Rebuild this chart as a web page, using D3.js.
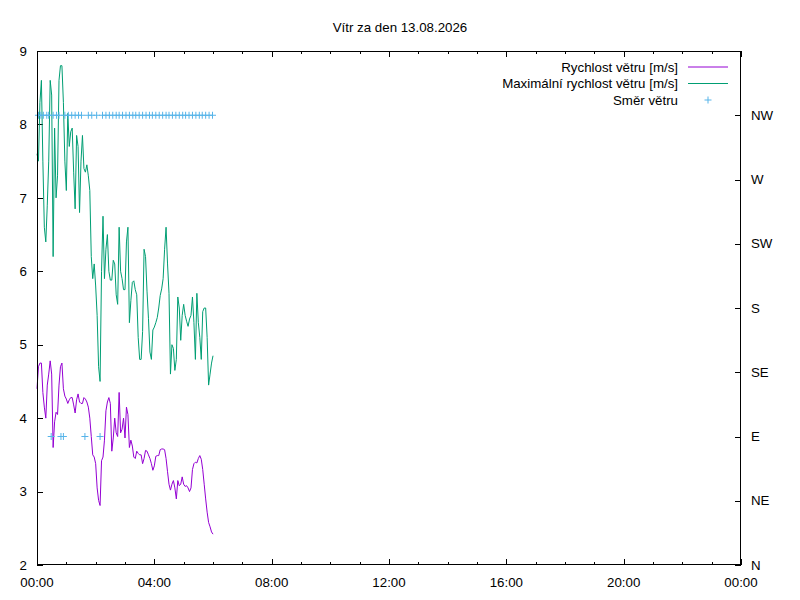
<!DOCTYPE html>
<html><head><meta charset="utf-8">
<script src="https://cdn.jsdelivr.net/npm/d3@7/dist/d3.min.js"></script>
<style>
body{margin:0;background:#fff}
svg text{font-family:"Liberation Sans",Arial,sans-serif;font-size:13.3px;fill:#000}
</style>
</head><body>
<svg id="chart" width="800" height="600"></svg>
<script>
const title = "Vítr za den 13.08.2026";
const seriesNames = ["Rychlost větru [m/s]", "Maximální rychlost větru [m/s]", "Směr větru"];
const seriesColors = ["#9400d3", "#009e73", "#56b4e9"];

// minutes after midnight
const minutes = d3.range(0, 361, 3);
const speed = [4.4,4.7,4.75,4.75,4.35,4.15,4.0,4.45,4.6,4.78,4.6,3.6,3.95,4.08,4.05,4.45,4.7,4.75,4.4,4.3,
  4.26,4.2,4.25,4.28,4.28,4.18,4.07,4.25,4.33,4.22,4.2,4.2,4.28,4.26,4.22,4.15,4.0,3.75,3.5,3.47,
  3.38,3.05,2.88,2.81,3.42,3.47,3.7,4.1,4.22,4.28,4.2,3.55,3.73,4.0,3.8,3.75,4.35,3.8,3.85,4.0,
  3.73,4.15,4.05,3.6,3.7,3.62,3.47,3.45,3.55,3.52,3.5,3.5,3.38,3.45,3.56,3.55,3.5,3.45,3.38,3.29,
  3.35,3.48,3.49,3.49,3.57,3.58,3.58,3.57,3.45,3.27,3.1,3.02,3.1,3.15,3.05,2.9,3.15,3.08,3.1,3.2,
  3.1,3.07,3.08,3.05,3.0,3.05,3.3,3.38,3.4,3.39,3.45,3.49,3.44,3.3,3.1,2.9,2.72,2.58,2.52,2.45,2.42];
const gust = [7.6,7.5,8.3,8.6,7.5,6.6,6.4,6.9,7.5,8.6,8.4,6.2,7.95,7.0,7.3,8.6,8.8,8.8,8.3,7.5,
  7.1,8.15,7.7,7.9,7.95,7.35,6.85,7.85,7.7,6.8,7.5,7.85,7.4,7.35,7.45,7.3,7.1,6.2,5.9,6.1,
  5.8,5.4,4.7,4.5,6.0,6.75,5.9,6.3,6.5,6.0,5.88,5.88,6.15,6.1,5.68,5.55,6.6,6.0,5.9,5.75,
  5.75,6.4,6.6,5.3,5.6,5.85,5.87,5.75,5.68,5.1,4.8,4.8,5.18,6.3,6.2,5.73,5.36,4.9,4.8,5.2,
  5.24,5.3,5.37,5.5,5.67,5.76,5.9,6.3,6.6,6.1,5.7,4.6,5.0,4.95,4.65,4.8,5.65,5.5,5.06,5.4,
  5.55,5.4,5.32,5.25,5.35,5.4,5.65,5.3,4.8,5.7,5.3,5.1,4.8,5.45,5.5,5.5,5.1,4.45,4.6,4.75,4.85];

const dirMinutes = [3,8,13,20,24,29,33,40,45,49,54,57,64,71,78,85,91,98,105,112,122,129,134,141,148,155,162,168,
  175,182,189,196,202,209,216,223,230,236,243,250,257,264,270,277,284,291,298,304,311,318,325,332,338,345,352,359];
const dirDegrees = [315,315,315,315,315,90,315,315,315,90,90,315,315,315,315,315,315,90,315,315,315,90,315,315,315,315,315,315,
  315,315,315,315,315,315,315,315,315,315,315,315,315,315,315,315,315,315,315,315,315,315,315,315,315,315,315,315];

const xTickMinutes = [0,240,480,720,960,1200,1440];
const xTickLabels = ["00:00","04:00","08:00","12:00","16:00","20:00","00:00"];
const yTicks = [2,3,4,5,6,7,8,9];
const dirTickDegrees = [0,45,90,135,180,225,270,315];
const dirLabels = ["N","NE","E","SE","S","SW","W","NW"];

const L = 37, R = 741, T = 51, B = 565;
const svg = d3.select("#chart");
const x = d3.scaleLinear().domain([0,1440]).range([L,R]);
const y = d3.scaleLinear().domain([2,9]).range([B,T]);
const y2 = d3.scaleLinear().domain([0,360]).range([B,T]);

// title
svg.append("text").attr("x",400).attr("y",27).attr("dy","0.35em").attr("text-anchor","middle").text(title);

const g = svg.append("g").attr("stroke","#000").attr("stroke-width",1).attr("shape-rendering","crispEdges");
// x ticks major/minor bottom and top
d3.range(0,1441,60).forEach(m => {
  const len = (m % 240 === 0) ? 6 : 3;
  const px = Math.round(x(m)) + 0.5;
  g.append("line").attr("x1",px).attr("x2",px).attr("y1",B).attr("y2",B-len);
  g.append("line").attr("x1",px).attr("x2",px).attr("y1",T).attr("y2",T+len);
});
yTicks.forEach(v => {
  const py = Math.round(y(v)) + 0.5;
  g.append("line").attr("x1",L).attr("x2",L+6).attr("y1",py).attr("y2",py);
});
dirTickDegrees.forEach(v => {
  const py = Math.round(y2(v)) + 0.5;
  g.append("line").attr("x1",R).attr("x2",R-6).attr("y1",py).attr("y2",py);
});

// tick labels
xTickMinutes.forEach((m,i) => {
  svg.append("text").attr("x",x(m)).attr("y",582).attr("dy","0.35em").attr("text-anchor","middle").text(xTickLabels[i]);
});
yTicks.forEach(v => {
  svg.append("text").attr("x",27).attr("y",y(v)).attr("dy","0.35em").attr("text-anchor","end").text(v);
});
dirTickDegrees.forEach((v,i) => {
  svg.append("text").attr("x",751).attr("y",y2(v)).attr("dy","0.35em").attr("text-anchor","start").text(dirLabels[i]);
});

// series lines
const line = d3.line().x((d,i) => x(minutes[i])).y(d => y(d));
svg.append("path").datum(speed).attr("d",line).attr("fill","none").attr("stroke",seriesColors[0]).attr("stroke-width",1);
svg.append("path").datum(gust).attr("d",line).attr("fill","none").attr("stroke",seriesColors[1]).attr("stroke-width",1);

// direction markers
const s = 3.5;
const marks = svg.append("g").attr("stroke",seriesColors[2]).attr("stroke-width",1);
dirMinutes.forEach((m,i) => {
  const cx = x(m), cy = y2(dirDegrees[i]);
  marks.append("path").attr("d",`M${cx-s},${cy}H${cx+s}M${cx},${cy-s}V${cy+s}`);
});

// border
svg.append("rect").attr("x",L+0.5).attr("y",T+0.5).attr("width",R-L-1).attr("height",B-T-1)
  .attr("fill","none").attr("stroke","#000").attr("stroke-width",1).attr("shape-rendering","crispEdges");

// legend
const legY = [67,83.5,100];
seriesNames.forEach((n,i) => {
  svg.append("text").attr("x",678).attr("y",legY[i]).attr("dy","0.35em").attr("text-anchor","end").text(n);
  if (i < 2) {
    svg.append("line").attr("x1",688).attr("x2",728).attr("y1",legY[i]).attr("y2",legY[i])
      .attr("stroke",seriesColors[i]).attr("stroke-width",1);
  } else {
    const cx = 708, cy = legY[i];
    svg.append("path").attr("d",`M${cx-s},${cy}H${cx+s}M${cx},${cy-s}V${cy+s}`)
      .attr("stroke",seriesColors[i]).attr("stroke-width",1);
  }
});
</script>
</body></html>
